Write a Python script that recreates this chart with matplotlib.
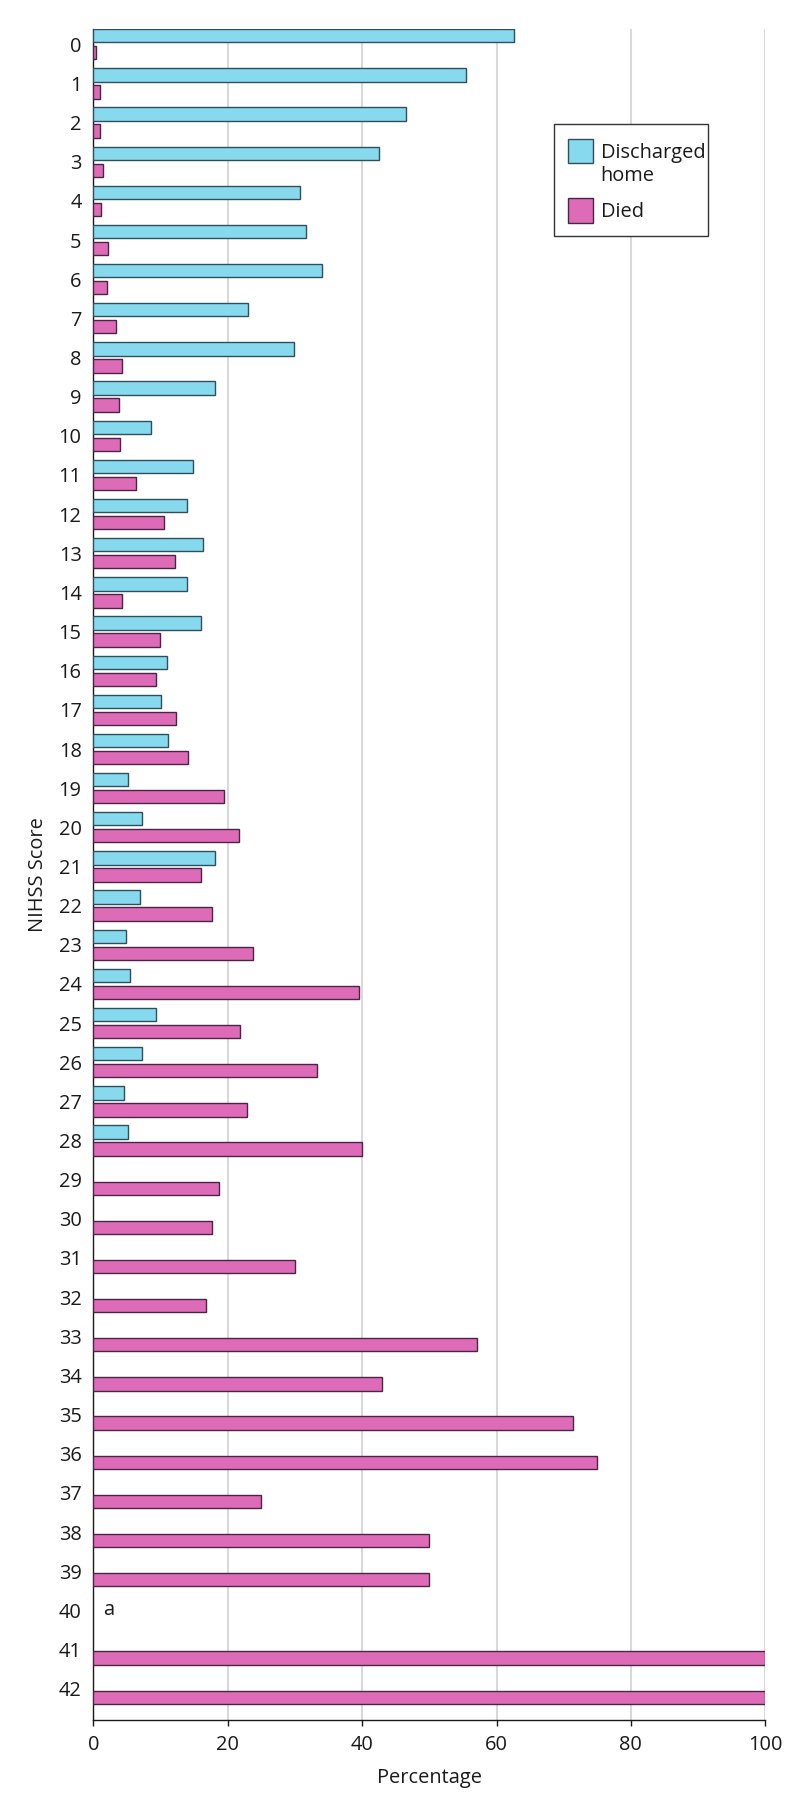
import numpy as np
import matplotlib
matplotlib.use('Agg')
import matplotlib.pyplot as plt
from matplotlib.patches import Rectangle

plt.rcParams['font.family'] = ['Open Sans', 'DejaVu Sans']

### valeurs (pourcentage par score NIHSS)
scores = list(range(43))
discharged = [62.6, 55.5, 46.6, 42.5, 30.8, 31.7, 34.1, 23.0, 29.9, 18.1,
              8.6, 14.9, 14.0, 16.3, 14.0, 16.1, 10.9, 10.0, 11.1, 5.1,
              7.3, 18.1, 7.0, 4.8, 5.4, 9.4, 7.2, 4.6, 5.1,
              0, 0, 0, 0, 0, 0, 0, 0, 0, 0, 0, 0, 0, 0]
died = [0.45, 1.0, 0.95, 1.4, 1.2, 2.2, 2.0, 3.4, 4.3, 3.8,
        4.0, 6.3, 10.5, 12.1, 4.3, 9.9, 9.4, 12.3, 14.1, 19.4,
        21.7, 16.1, 17.6, 23.8, 39.5, 21.9, 33.3, 22.8, 40.0,
        18.7, 17.6, 30.0, 16.7, 57.1, 42.9, 71.4, 75.0, 25.0, 50.0, 50.0,
        0, 100.0, 100.0]
no_data = [40]   # score sans patient -> note "a"

col_home = '#87d9ee'
edge_home = '#2f4f5c'
col_died = '#de6bb8'
edge_died = '#4a2444'

W, H = 794, 1805
fig = plt.figure(figsize=(W / 100, H / 100), dpi=100)
ax = fig.add_axes([93.3 / W, 1 - 1720 / H, 672 / W, 1691 / H])

y = np.array(scores)
off = 0.217
h = 0.34
disc_y = [yy - off for yy, v in zip(y, discharged) if v > 0]
disc_v = [v for v in discharged if v > 0]
died_y = [yy + off for yy, v in zip(y, died) if v > 0]
died_v = [v for v in died if v > 0]
ax.barh(disc_y, disc_v, height=h, color=col_home, edgecolor=edge_home,
        linewidth=1.0, zorder=3)
ax.barh(died_y, died_v, height=h, color=col_died, edgecolor=edge_died,
        linewidth=1.0, zorder=3)

for s in no_data:
    ax.text(1.4, s, 'a', ha='left', va='center', fontsize=14.4, color='#1a1a1a')

ax.set_xlim(0, 100)
ax.set_ylim(42.80, -0.39)
ax.set_xticks([0, 20, 40, 60, 80, 100])
ax.set_yticks(scores)
ax.set_yticklabels([str(s) for s in scores])
ax.xaxis.grid(True, color='#d9d9d9', linewidth=1.5, zorder=0)
ax.set_axisbelow(True)
for sp in ['top', 'right']:
    ax.spines[sp].set_visible(False)
for sp in ['left', 'bottom']:
    ax.spines[sp].set_color('#1a1a1a')
    ax.spines[sp].set_linewidth(1.0)
ax.tick_params(axis='y', length=0, pad=8.4, labelsize=14.4, labelcolor='#1a1a1a')
ax.tick_params(axis='x', length=4.5, width=1.0, color='#1a1a1a', pad=6,
               labelsize=14.4, labelcolor='#1a1a1a')
ax.set_xlabel('Percentage', fontsize=14.4, color='#1a1a1a', labelpad=9.5)
ax.set_ylabel('NIHSS Score', fontsize=14.4, color='#1a1a1a', labelpad=8)

### légende dessinée à la main (coordonnées en pixels de la figure)
def fx(px):
    return px / W

def fy(py):
    return 1 - py / H

fig.add_artist(Rectangle((fx(554), fy(236)), fx(708.3) - fx(554), fy(124) - fy(236),
                         transform=fig.transFigure, facecolor='white',
                         edgecolor='#333333', linewidth=1.0))
fig.add_artist(Rectangle((fx(568), fy(163.3)), fx(24.7), fy(138.7) - fy(163.3),
                         transform=fig.transFigure, facecolor=col_home,
                         edgecolor=edge_home, linewidth=1.0))
fig.add_artist(Rectangle((fx(568), fy(222.7)), fx(24.7), fy(197.7) - fy(222.7),
                         transform=fig.transFigure, facecolor=col_died,
                         edgecolor=edge_died, linewidth=1.0))
fig.text(fx(600.7), fy(157.6), 'Discharged', fontsize=14.4, va='baseline', color='#1a1a1a')
fig.text(fx(600.7), fy(181.0), 'home', fontsize=14.4, va='baseline', color='#1a1a1a')
fig.text(fx(600.7), fy(217.0), 'Died', fontsize=14.4, va='baseline', color='#1a1a1a')

plt.savefig('out.png', dpi=100)
